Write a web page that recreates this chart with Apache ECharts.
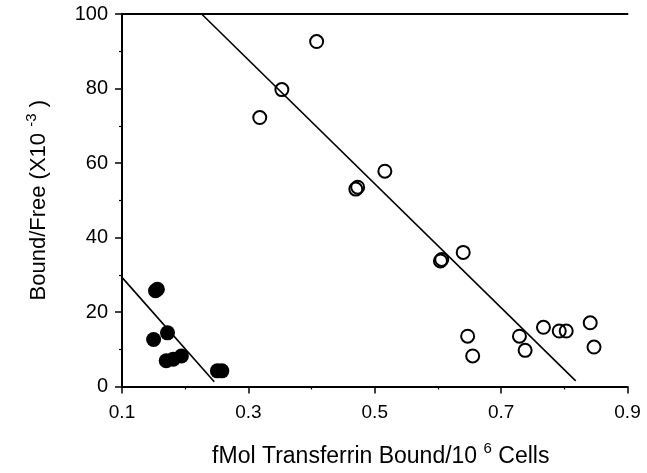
<!DOCTYPE html>
<html>
<head>
<meta charset="utf-8">
<script src="https://cdn.jsdelivr.net/npm/echarts@6/dist/echarts.min.js"></script>
<style>
html,body{margin:0;padding:0;background:#fff;}
#chart{width:647px;height:473px;}
</style>
</head>
<body>
<div id="chart"></div>
<script>
// Open circles
const openX = [0.318, 0.353, 0.408, 0.470, 0.473, 0.516, 0.604, 0.606, 0.640, 0.647, 0.655, 0.729, 0.738, 0.767, 0.792, 0.803, 0.841, 0.847];
const openY = [72.2, 79.7, 92.6, 53.0, 53.5, 57.8, 33.7, 34.1, 36.0, 13.5, 8.2, 13.5, 9.7, 15.9, 14.9, 14.9, 17.1, 10.6];
// Filled circles
const filledX = [0.153, 0.156, 0.150, 0.172, 0.170, 0.181, 0.194, 0.251, 0.258];
const filledY = [25.7, 26.1, 12.6, 14.4, 6.9, 7.3, 8.2, 4.2, 4.2];
// Regression lines (end points)
const openLineX = [0.226, 0.818];
const openLineY = [100, 1.5];
const filledLineX = [0.1, 0.246];
const filledLineY = [29.3, 1.3];
// Axis ticks
const xTicks = [0.1, 0.3, 0.5, 0.7, 0.9];
const yTicks = [0, 20, 40, 60, 80, 100];

const FONT = '"Liberation Sans", Arial, Helvetica, sans-serif';
const zip = (a, b) => a.map((v, i) => [v, b[i]]);

const chart = echarts.init(document.getElementById('chart'), null, {renderer: 'canvas'});
chart.setOption({
  animation: false,
  backgroundColor: '#ffffff',
  grid: {left: 122, top: 14, right: 19.5, bottom: 84, containLabel: false},
  xAxis: [{
    type: 'value',
    min: xTicks[0], max: xTicks[xTicks.length - 1], interval: 0.2,
    position: 'bottom',
    axisLine: {show: true, onZero: false, lineStyle: {color: '#000', width: 2}},
    axisTick: {show: true, inside: false, length: 7, lineStyle: {color: '#000', width: 1.5}},
    minorTick: {show: true, splitNumber: 2, length: 3, lineStyle: {color: '#000', width: 1.2}},
    splitLine: {show: false},
    minorSplitLine: {show: false},
    axisLabel: {margin: 17, fontFamily: FONT, fontSize: 19, color: '#000',
      formatter: v => v.toFixed(1)},
    name: '{m|fMol Transferrin Bound/10 }{s|6}{m| Cells}',
    nameLocation: 'middle',
    nameGap: 55,
    nameTextStyle: {
      padding: [0, 0, 0, 12],
      rich: {
        m: {fontFamily: FONT, fontSize: 23, color: '#000', lineHeight: 30},
        s: {fontFamily: FONT, fontSize: 15, color: '#000', lineHeight: 15, verticalAlign: 'top'}
      }
    }
  }, {
    type: 'value',
    min: xTicks[0], max: xTicks[xTicks.length - 1],
    position: 'top',
    axisLine: {show: true, onZero: false, lineStyle: {color: '#000', width: 2}},
    axisTick: {show: false},
    axisLabel: {show: false},
    splitLine: {show: false}
  }],
  yAxis: {
    type: 'value',
    min: yTicks[0], max: yTicks[yTicks.length - 1], interval: 20,
    axisLine: {show: true, onZero: false, lineStyle: {color: '#000', width: 2}},
    axisTick: {show: true, inside: false, length: 7, lineStyle: {color: '#000', width: 1.5}},
    minorTick: {show: true, splitNumber: 2, length: 3, lineStyle: {color: '#000', width: 1.2}},
    splitLine: {show: false},
    axisLabel: {margin: 14, fontFamily: FONT, fontSize: 20, color: '#000'},
    name: '{m|Bound/Free (X10 }{s|-3}{m| )}',
    nameLocation: 'middle',
    nameRotate: 90,
    nameGap: 68,
    nameTextStyle: {
      rich: {
        m: {fontFamily: FONT, fontSize: 22, color: '#000', lineHeight: 30},
        s: {fontFamily: FONT, fontSize: 15, color: '#000', lineHeight: 15, verticalAlign: 'top'}
      }
    }
  },
  series: [
    {
      type: 'line', data: zip(openLineX, openLineY), showSymbol: false, symbol: 'none',
      lineStyle: {color: '#000', width: 1.6}, silent: true, z: 1
    },
    {
      type: 'line', data: zip(filledLineX, filledLineY), showSymbol: false, symbol: 'none',
      lineStyle: {color: '#000', width: 1.6}, silent: true, z: 1
    },
    {
      type: 'scatter', data: zip(openX, openY), symbol: 'circle', symbolSize: 13,
      itemStyle: {color: 'rgba(255,255,255,0)', borderColor: '#000', borderWidth: 2, opacity: 1}, z: 3
    },
    {
      type: 'scatter', data: zip(filledX, filledY), symbol: 'circle', symbolSize: 15,
      itemStyle: {color: '#000', borderColor: '#000', borderWidth: 0, opacity: 1}, z: 3
    }
  ]
});
</script>
</body>
</html>
